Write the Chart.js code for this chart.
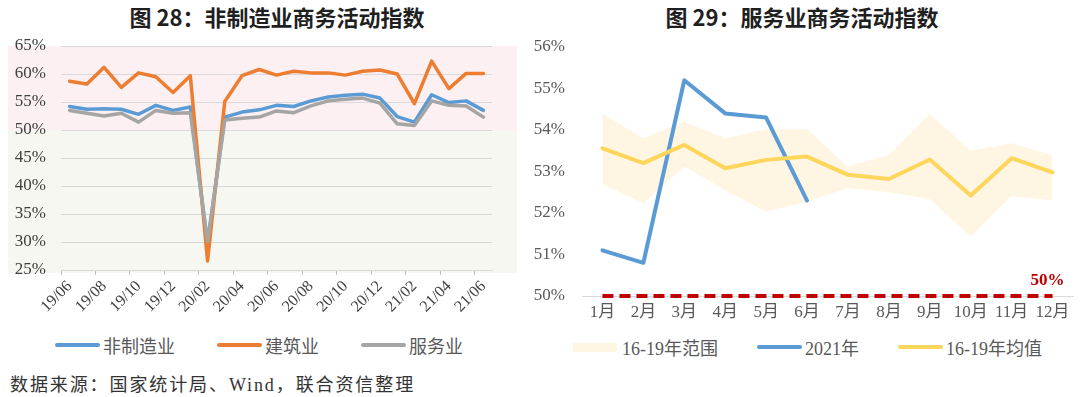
<!DOCTYPE html>
<html>
<head>
<meta charset="utf-8">
<script src="https://cdn.jsdelivr.net/npm/chart.js@4.4.1/dist/chart.umd.min.js"></script>
<style>
  body { margin: 0; width: 1080px; height: 397px; background: #fff; position: relative; overflow: hidden; }
  .title { position: absolute; top: 0; width: 400px; height: 36px; line-height: 36px; text-align: center;
           font: bold 22px 'Noto Sans CJK SC', sans-serif; color: #1f1f1f; }
  .box { position: absolute; top: 0; height: 330px; }
  .legend { position: absolute; display: flex; align-items: center; height: 24px;
            font: 18px 'Liberation Serif', 'Noto Sans CJK SC', serif; color: #595959; }
  .legend .item { display: flex; align-items: center; }
  .legend .line { width: 45px; height: 4px; border-radius: 2px; margin-right: 3px; }
  .legend .area { width: 44px; height: 9px; margin-right: 5px; }
  .source { position: absolute; left: 10px; top: 370px; line-height: 24px; letter-spacing: 1.9px;
            font: 18px 'Liberation Serif', 'Noto Sans CJK SC', serif; color: #333; }
</style>
</head>
<body>
<div class="title" style="left:77px">图 28：非制造业商务活动指数</div>
<div class="title" style="left:602px">图 29：服务业商务活动指数</div>

<div class="box" style="left:0; width:525px;"><canvas id="pmiChart"></canvas></div>
<div class="box" style="left:530px; width:550px;"><canvas id="serviceChart"></canvas></div>

<div class="legend" style="left:55px; top:333px;">
  <div class="item" style="margin-right:42px"><span class="line" style="background:#5B9BD5"></span>非制造业</div>
  <div class="item" style="margin-right:42px"><span class="line" style="background:#ED7D31"></span>建筑业</div>
  <div class="item"><span class="line" style="background:#A5A5A5"></span>服务业</div>
</div>
<div class="legend" style="left:573px; top:335px;">
  <div class="item" style="margin-right:39px"><span class="area" style="background:#FFF5E3"></span>16-19年范围</div>
  <div class="item" style="margin-right:39px"><span class="line" style="background:#5B9BD5"></span>2021年</div>
  <div class="item"><span class="line" style="background:#FFD65C"></span>16-19年均值</div>
</div>

<div class="source">数据来源：国家统计局、Wind，联合资信整理</div>

<script>
// 图28 数据（%）
const months = ['19/06', '19/07', '19/08', '19/09', '19/10', '19/11', '19/12', '20/01', '20/02', '20/03',
  '20/04', '20/05', '20/06', '20/07', '20/08', '20/09', '20/10', '20/11', '20/12', '21/01',
  '21/02', '21/03', '21/04', '21/05', '21/06'];
const nonMfg = [54.2, 53.7, 53.8, 53.7, 52.8, 54.4, 53.5, 54.1, 29.6, 52.3, 53.2, 53.6, 54.4,
  54.2, 55.2, 55.9, 56.2, 56.4, 55.7, 52.4, 51.4, 56.3, 54.9, 55.2, 53.5];
const construction = [58.7, 58.2, 61.2, 57.6, 60.2, 59.5, 56.7, 59.7, 26.6, 55.1, 59.7, 60.8, 59.8,
  60.5, 60.2, 60.2, 59.8, 60.5, 60.7, 60.0, 54.7, 62.3, 57.4, 60.1, 60.1];
const services = [53.5, 53.0, 52.5, 53.0, 51.4, 53.5, 53.0, 53.1, 30.1, 51.8, 52.1, 52.3, 53.4,
  53.1, 54.3, 55.2, 55.5, 55.7, 54.8, 51.1, 50.8, 55.2, 54.4, 54.3, 52.3];

// 图29 数据（%）
const monthNames = ['1月', '2月', '3月', '4月', '5月', '6月', '7月', '8月', '9月', '10月', '11月', '12月'];
const year2021 = [51.1, 50.8, 55.2, 54.4, 54.3, 52.3];
const avg1619 = [53.56, 53.2, 53.64, 53.08, 53.28, 53.36, 52.92, 52.82, 53.29, 52.42, 53.32, 52.98];
const high1619 = [54.39, 53.8, 54.2, 53.8, 54.02, 54.02, 53.12, 53.4, 54.39, 53.5, 53.68, 53.4];
const low1619 = [52.7, 52.23, 53.12, 52.55, 52.03, 52.27, 52.6, 52.5, 52.33, 51.43, 52.41, 52.31];
const threshold = 50;
const thresholdLine = [50, 50, 50, 50, 50, 50, 50, 50, 50, 50, 50, 50];

const serif = "'Liberation Serif', 'Noto Sans CJK SC', serif";

// pink above 50%, green below, like the original background
const bandPlugin = {
  id: 'bands',
  beforeDraw(chart) {
    const { ctx, chartArea, scales: { y } } = chart;
    const x0 = chartArea.left - 53;
    const x1 = chartArea.right + 25;
    const top = y.getPixelForValue(y.max);
    const mid = y.getPixelForValue(threshold);
    const bot = y.getPixelForValue(y.min) + 3;
    ctx.save();
    ctx.fillStyle = '#FCF0F2';
    ctx.fillRect(x0, top, x1 - x0, mid - top);
    ctx.fillStyle = '#F5F7F0';
    ctx.fillRect(x0, mid, x1 - x0, bot - mid);
    ctx.restore();
  }
};

const lineStyle = { pointRadius: 0, tension: 0, borderWidth: 3.5, borderJoinStyle: 'round', borderCapStyle: 'round', fill: false };

new Chart(document.getElementById('pmiChart').getContext('2d'), {
  type: 'line',
  data: {
    labels: months,
    datasets: [
      { label: '非制造业', data: nonMfg, borderColor: '#5B9BD5', order: 2, ...lineStyle },
      { label: '建筑业', data: construction, borderColor: '#ED7D31', order: 1, ...lineStyle },
      { label: '服务业', data: services, borderColor: '#A5A5A5', order: 0, ...lineStyle }
    ]
  },
  options: {
    responsive: true,
    maintainAspectRatio: false,
    animation: false,
    layout: { padding: { top: 46, right: 33, left: 0, bottom: 0 } },
    plugins: { legend: { display: false }, tooltip: { enabled: false } },
    scales: {
      x: {
        offset: true,
        grid: {
          offset: true,
          drawOnChartArea: false,
          tickLength: 5,
          color: (c) => (c.index % 2 === 0 ? '#bfbfbf' : 'rgba(0,0,0,0)')
        },
        border: { display: true, color: '#d9d9d9' },
        ticks: {
          autoSkip: false,
          maxRotation: 45,
          minRotation: 45,
          padding: 2,
          color: '#404040',
          font: { family: serif, size: 16 },
          callback: function (v, i) { return i % 2 === 0 ? this.getLabelForValue(v) : ''; }
        },
        afterFit: (s) => { s.height = 60; }
      },
      y: {
        min: 25,
        max: 65,
        grid: { color: '#d9d9d9', drawTicks: false },
        border: { display: false },
        ticks: {
          stepSize: 5,
          padding: 15,
          color: '#404040',
          font: { family: serif, size: 17 },
          callback: (v) => v + '%'
        },
        afterFit: (s) => { s.width = 61; }
      }
    }
  },
  plugins: [bandPlugin]
});

// "50%" label over the end of the dashed line
const thresholdLabel = {
  id: 'thresholdLabel',
  afterDatasetsDraw(chart) {
    const { ctx, scales: { x, y } } = chart;
    const px = x.getPixelForValue(monthNames.length - 1) - 5;
    const py = y.getPixelForValue(threshold) - 15;
    ctx.save();
    ctx.font = "bold 17px 'Liberation Serif'";
    ctx.fillStyle = '#C00000';
    ctx.textAlign = 'center';
    ctx.textBaseline = 'middle';
    ctx.fillText(threshold + '%', px, py);
    ctx.restore();
  }
};

new Chart(document.getElementById('serviceChart').getContext('2d'), {
  type: 'line',
  data: {
    labels: monthNames,
    datasets: [
      { label: 'low', data: low1619, borderWidth: 0, pointRadius: 0, fill: false, order: 4 },
      { label: '16-19年范围', data: high1619, borderWidth: 0, pointRadius: 0, tension: 0,
        fill: '-1', backgroundColor: '#FFF5E3', order: 3 },
      { label: '2021年', data: year2021, borderColor: '#5B9BD5', order: 1, ...lineStyle, borderWidth: 4 },
      { label: '16-19年均值', data: avg1619, borderColor: '#FFD65C', order: 0, ...lineStyle, borderWidth: 4 },
      { label: '50%', data: thresholdLine, borderColor: '#C00000', borderWidth: 4, borderDash: [11, 6],
        borderCapStyle: 'butt', pointRadius: 0, fill: false, clip: false, order: 2 }
    ]
  },
  options: {
    responsive: true,
    maintainAspectRatio: false,
    animation: false,
    layout: { padding: { top: 47, right: 7, left: 0, bottom: 0 } },
    plugins: { legend: { display: false }, tooltip: { enabled: false } },
    scales: {
      x: {
        offset: true,
        grid: { display: false, drawTicks: false },
        border: { display: true, color: '#d9d9d9' },
        ticks: { padding: 6, color: '#595959', font: { family: serif, size: 17 } },
        afterFit: (s) => { s.height = 34; }
      },
      y: {
        min: 50,
        max: 56,
        grid: { display: false, drawTicks: false },
        border: { display: false },
        ticks: {
          stepSize: 1,
          padding: 17,
          color: '#595959',
          font: { family: serif, size: 17 },
          callback: (v) => v + '%'
        },
        afterFit: (s) => { s.width = 52; }
      }
    }
  },
  plugins: [thresholdLabel]
});
</script>
</body>
</html>
